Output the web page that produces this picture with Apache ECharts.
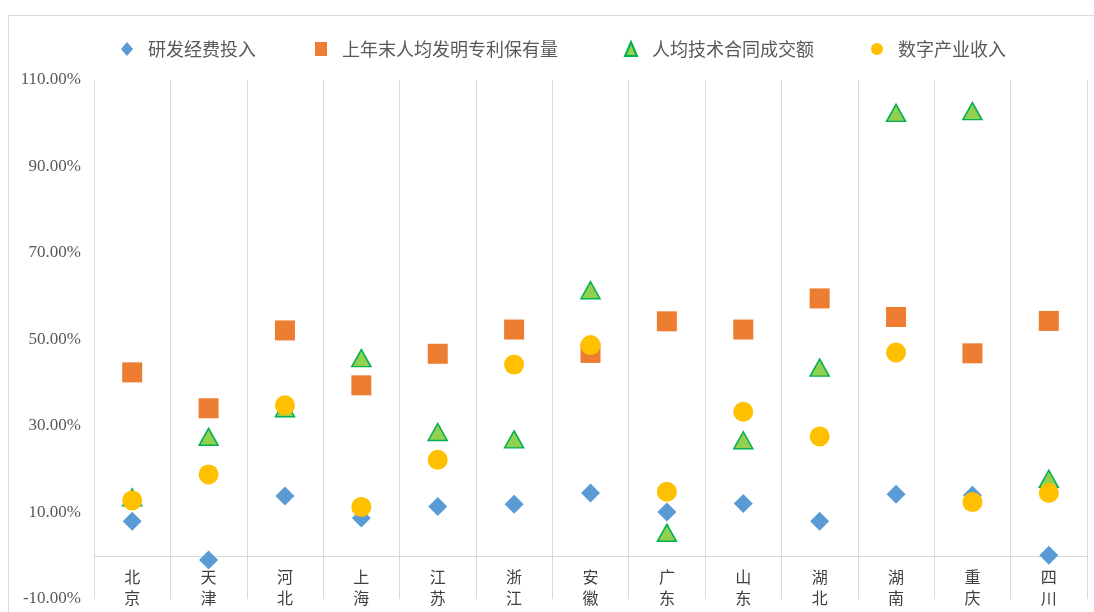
<!DOCTYPE html>
<html>
<head>
<meta charset="utf-8">
<script src="https://cdn.jsdelivr.net/npm/echarts@6/dist/echarts.min.js"></script>
<style>
    html, body { margin: 0; padding: 0; background: #fff; }
    #chart { width: 1094px; height: 612px; }
</style>
</head>
<body>
<div id="chart"></div>
<script>
const categories = ['北京', '天津', '河北', '上海', '江苏', '浙江', '安徽', '广东', '山东', '湖北', '湖南', '重庆', '四川']
const seriesNames = ['研发经费投入', '上年末人均发明专利保有量', '人均技术合同成交额', '数字产业收入']
// 百分比数值
const rdInput = [8.0, -1.0, 13.8, 8.7, 11.4, 11.9, 14.5, 10.1, 12.1, 8.0, 14.2, 14.0, 0.1]
const patents = [42.4, 34.1, 52.1, 39.4, 46.7, 52.3, 46.9, 54.2, 52.3, 59.5, 55.2, 46.8, 54.3]
const techContracts = [13.5, 27.5, 34.1, 45.7, 28.6, 26.9, 61.4, 5.3, 26.7, 43.5, 102.4, 102.8, 17.8]
const digitalIncome = [12.8, 18.8, 34.8, 11.3, 22.2, 44.2, 48.7, 14.8, 33.3, 27.6, 47.0, 12.4, 14.5]
const yTicks = { min: -10, max: 110, interval: 20 }

const chartInstance = echarts.init(document.getElementById('chart'))

const cjkFont = '"Noto Sans CJK SC", sans-serif'
const legendStyle = {
    top: 35,
    itemWidth: 12,
    itemHeight: 14,
    textStyle: { fontFamily: cjkFont, fontSize: 18, color: '#595959', padding: [0, 0, 0, 10] }
}
const legendLefts = [116, 310, 619, 866]
const legendIcons = ['diamond', 'rect', 'triangle', 'circle']

const option = {
    animation: false,
    graphic: [{
        type: 'rect',
        silent: true,
        shape: { x: 8.5, y: 15.5, width: 1100, height: 620 },
        style: { fill: 'none', stroke: '#d9d9d9', lineWidth: 1 }
    }],
    legend: seriesNames.map((name, i) => Object.assign({}, legendStyle, {
        left: legendLefts[i],
        data: [{ name: name, icon: legendIcons[i] }]
    })),
    grid: {
        left: 94, right: 7, top: 80, bottom: 13,
        containLabel: false,
        outerBounds: { left: -100, right: -100, top: -100, bottom: -100 }
    },
    xAxis: {
        type: 'category',
        data: categories,
        boundaryGap: true,
        axisLine: { onZero: true, lineStyle: { color: '#d9d9d9', width: 1 } },
        axisTick: { show: false },
        splitLine: { show: true, interval: 0, lineStyle: { color: '#d9d9d9', width: 1 } },
        axisLabel: {
            interval: 0,
            margin: -33,
            fontFamily: cjkFont,
            fontSize: 16,
            lineHeight: 21,
            color: '#404040',
            verticalAlign: 'top',
            formatter: v => v.split('').join('\n')
        }
    },
    yAxis: {
        type: 'value',
        min: yTicks.min,
        max: yTicks.max,
        interval: yTicks.interval,
        axisLine: { show: false },
        axisTick: { show: false },
        splitLine: { show: false },
        axisLabel: {
            margin: 13,
            fontFamily: '"Liberation Serif", serif',
            fontSize: 17,
            color: '#595959',
            formatter: v => v.toFixed(2) + '%'
        }
    },
    series: [
        {
            name: seriesNames[0], type: 'scatter', symbol: 'diamond', symbolSize: 19,
            itemStyle: { color: '#5B9BD5', opacity: 1 },
            data: rdInput
        },
        {
            name: seriesNames[1], type: 'scatter', symbol: 'rect', symbolSize: 20,
            itemStyle: { color: '#ED7D31', opacity: 1 },
            data: patents
        },
        {
            name: seriesNames[2], type: 'scatter', symbol: 'triangle', symbolSize: [19, 17],
            itemStyle: { color: '#92D050', borderColor: '#00B050', borderWidth: 1.5, opacity: 1 },
            data: techContracts
        },
        {
            name: seriesNames[3], type: 'scatter', symbol: 'circle', symbolSize: 20,
            itemStyle: { color: '#FFC000', opacity: 1 },
            data: digitalIncome
        }
    ]
}
chartInstance.setOption(option)
</script>
</body>
</html>
